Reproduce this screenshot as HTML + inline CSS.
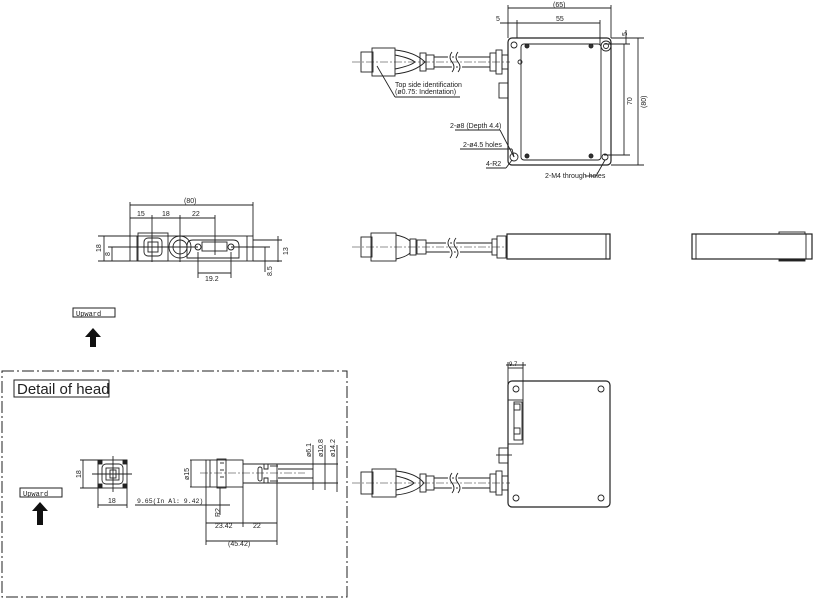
<!DOCTYPE html>
<html><head><meta charset="utf-8"><style>
html,body{margin:0;padding:0;background:#fff}
svg{display:block}
text{font-family:"Liberation Sans",sans-serif;fill:#222}
.m{font-family:"Liberation Mono",monospace}
</style></head><body>
<svg width="820" height="605" viewBox="0 0 820 605" xmlns="http://www.w3.org/2000/svg">
<g fill="none" stroke="#222" stroke-width="0.9">
<!-- ===== TOP VIEW ===== -->
<rect x="508" y="38" width="103" height="127" rx="4" stroke-width="1.2"/>
<rect x="521" y="44" width="80" height="116" rx="3"/>
<circle cx="514" cy="45" r="3"/><circle cx="606" cy="46" r="5"/><circle cx="606" cy="46" r="2.5"/>
<circle cx="514" cy="157" r="4"/><circle cx="605" cy="157" r="3"/>
<circle cx="527" cy="46" r="2" fill="#333"/><circle cx="591" cy="46" r="2" fill="#333"/>
<circle cx="527" cy="156" r="2" fill="#333"/><circle cx="591" cy="156" r="2" fill="#333"/>
<circle cx="520" cy="62" r="2"/>
<rect x="499" y="83" width="9" height="15"/>
<line x1="508" y1="8" x2="611" y2="8"/><line x1="508" y1="5" x2="508" y2="38"/><line x1="611" y1="5" x2="611" y2="38"/>
<line x1="500" y1="23" x2="600" y2="23"/><line x1="517" y1="20" x2="517" y2="38"/><line x1="600" y1="20" x2="600" y2="45"/>
<line x1="604" y1="44" x2="630" y2="44"/><line x1="604" y1="155" x2="630" y2="155"/><line x1="624" y1="44" x2="624" y2="155"/>
<line x1="611" y1="38" x2="644" y2="38"/><line x1="611" y1="165" x2="644" y2="165"/><line x1="638" y1="38" x2="638" y2="165"/>
<line x1="626" y1="30" x2="626" y2="44"/>
<rect x="361" y="52" width="12" height="20"/><rect x="372" y="48" width="23" height="28"/>
<path d="M395 50 Q415 52 425 62 Q415 72 395 74"/><path d="M395 55 Q410 58 415 62 Q410 66 395 69"/>
<rect x="420" y="53" width="6" height="18"/><rect x="426" y="55" width="8" height="14"/>
<line x1="434" y1="57" x2="490" y2="57"/><line x1="434" y1="67" x2="490" y2="67"/>
<path d="M452 52 q-4 5 0 10 q4 5 0 10 M458 52 q-4 5 0 10 q4 5 0 10" stroke="#fff" stroke-width="4"/>
<path d="M452 52 q-4 5 0 10 q4 5 0 10 M458 52 q-4 5 0 10 q4 5 0 10"/>
<rect x="490" y="53" width="6" height="18"/><rect x="496" y="50" width="6" height="24"/><rect x="502" y="55" width="6" height="14"/>
<line x1="352" y1="62" x2="510" y2="62" stroke-dasharray="8 2 2 2" stroke-width="0.6"/>
<line x1="377" y1="66" x2="395" y2="97"/><line x1="395" y1="97" x2="460" y2="97"/>
<line x1="500" y1="130" x2="514" y2="157"/><line x1="455" y1="130" x2="500" y2="130"/>
<line x1="460" y1="149" x2="512" y2="149"/><line x1="512" y1="149" x2="514" y2="157"/>
<line x1="486" y1="168" x2="506" y2="168"/><line x1="506" y1="168" x2="512" y2="160"/>
<line x1="585" y1="176" x2="596" y2="176"/><line x1="596" y1="176" x2="605" y2="160"/>
<!-- ===== FRONT VIEW ===== -->
<rect x="130" y="236" width="123" height="25"/>
<line x1="137" y1="236" x2="137" y2="261"/><line x1="247" y1="236" x2="247" y2="261"/>
<rect x="138" y="233" width="30" height="28"/>
<rect x="144" y="238" width="18" height="18" rx="4"/><rect x="148" y="242" width="10" height="10"/>
<circle cx="180" cy="247" r="11"/><circle cx="180" cy="247" r="7"/>
<path d="M193 240 h40 q6 0 6 6 v12 h-52 v-12 q0 -6 6 -6z"/>
<rect x="202" y="242" width="25" height="9"/><circle cx="198" cy="247" r="3"/><circle cx="231" cy="247" r="3"/>
<line x1="130" y1="205" x2="253" y2="205"/><line x1="130" y1="202" x2="130" y2="236"/><line x1="253" y1="202" x2="253" y2="236"/>
<line x1="130" y1="218" x2="215" y2="218"/><line x1="152" y1="215" x2="152" y2="262"/><line x1="180" y1="215" x2="180" y2="262"/><line x1="215" y1="215" x2="215" y2="255"/>
<line x1="98" y1="236" x2="130" y2="236"/><line x1="98" y1="261" x2="130" y2="261"/><line x1="104" y1="236" x2="104" y2="261"/>
<line x1="108" y1="247" x2="198" y2="247"/><line x1="112" y1="247" x2="112" y2="261"/>
<line x1="253" y1="240" x2="282" y2="240"/><line x1="253" y1="261" x2="282" y2="261"/><line x1="278" y1="236" x2="278" y2="262"/>
<line x1="231" y1="247" x2="270" y2="247"/><line x1="265" y1="247" x2="265" y2="272"/>
<line x1="198" y1="252" x2="198" y2="278"/><line x1="231" y1="252" x2="231" y2="278"/><line x1="198" y1="273" x2="231" y2="273"/>
<!-- ===== SIDE VIEW MID ===== -->
<rect x="361" y="237" width="11" height="20"/><rect x="371" y="233" width="25" height="28"/>
<path d="M396 235 q10 2 14 6 v12 q-4 4 -14 6"/>
<rect x="410" y="239" width="6" height="16"/><rect x="417" y="240" width="9" height="14"/>
<line x1="426" y1="243" x2="492" y2="243"/><line x1="426" y1="252" x2="492" y2="252"/>
<path d="M450 238 q-4 5 0 10 q4 5 0 10 M456 238 q-4 5 0 10 q4 5 0 10" stroke="#fff" stroke-width="4"/>
<path d="M450 238 q-4 5 0 10 q4 5 0 10 M456 238 q-4 5 0 10 q4 5 0 10"/>
<rect x="492" y="239" width="5" height="16"/><rect x="497" y="236" width="9" height="22"/>
<rect x="507" y="234" width="103" height="25" stroke-width="1.2"/><line x1="606" y1="234" x2="606" y2="259"/>
<line x1="352" y1="247" x2="506" y2="247" stroke-dasharray="8 2 2 2" stroke-width="0.6"/>
<rect x="692" y="234" width="120" height="25" stroke-width="1.2"/><line x1="696" y1="234" x2="696" y2="259"/><line x1="806" y1="234" x2="806" y2="259"/>
<rect x="779" y="232" width="26" height="2"/><rect x="779" y="259" width="26" height="2" fill="#222"/>
<rect x="73" y="308" width="42" height="9" stroke-width="1"/>
<rect x="20" y="488" width="42" height="9" stroke-width="1"/>
<!-- ===== DETAIL BOX ===== -->
<rect x="2" y="371" width="345" height="226" stroke-dasharray="12 3 2 3" stroke-width="1"/>
<rect x="14" y="380" width="95" height="17" stroke-width="1"/>
<rect x="98" y="460" width="29" height="28"/><rect x="102" y="464" width="21" height="20" rx="4"/>
<rect x="106" y="468" width="13" height="12"/><rect x="110" y="470" width="6" height="8"/>
<rect x="98" y="460" width="4" height="4" fill="#222"/><rect x="123" y="460" width="4" height="4" fill="#222"/>
<rect x="98" y="484" width="4" height="4" fill="#222"/><rect x="123" y="484" width="4" height="4" fill="#222"/>
<line x1="113" y1="456" x2="113" y2="492"/><line x1="92" y1="474" x2="132" y2="474"/>
<line x1="80" y1="460" x2="98" y2="460"/><line x1="80" y1="488" x2="98" y2="488"/><line x1="83" y1="460" x2="83" y2="488"/>
<line x1="98" y1="488" x2="98" y2="508"/><line x1="127" y1="488" x2="127" y2="508"/><line x1="98" y1="505" x2="127" y2="505"/>
<rect x="206" y="460" width="37" height="27"/><line x1="210" y1="460" x2="210" y2="487"/>
<rect x="217" y="459" width="9" height="29"/><line x1="220" y1="463" x2="224" y2="463"/><line x1="220" y1="470" x2="224" y2="470"/><line x1="220" y1="477" x2="224" y2="477"/>
<line x1="243" y1="464" x2="338" y2="464"/><line x1="243" y1="483" x2="338" y2="483"/>
<rect x="258" y="467" width="4" height="14" rx="2"/><path d="M264 464 v5 h4 v-5 M264 483 v-5 h4 v5"/>
<line x1="270" y1="466" x2="278" y2="466"/><line x1="270" y1="481" x2="278" y2="481"/>
<line x1="277" y1="464" x2="277" y2="545"/><line x1="278" y1="469" x2="313" y2="469"/><line x1="278" y1="478" x2="313" y2="478"/>
<line x1="190" y1="460" x2="206" y2="460"/><line x1="190" y1="487" x2="206" y2="487"/><line x1="191" y1="460" x2="191" y2="487"/>
<line x1="313" y1="445" x2="313" y2="490"/><line x1="325" y1="445" x2="325" y2="490"/><line x1="337" y1="445" x2="337" y2="492"/>
<line x1="200" y1="473" x2="305" y2="473" stroke-dasharray="8 2 2 2" stroke-width="0.6"/>
<line x1="135" y1="505" x2="230" y2="505"/><line x1="220" y1="488" x2="220" y2="515"/>
<line x1="206" y1="487" x2="206" y2="545"/><line x1="243" y1="487" x2="243" y2="527"/>
<line x1="206" y1="523" x2="277" y2="523"/><line x1="206" y1="541" x2="277" y2="541"/>
<!-- ===== BOTTOM VIEW ===== -->
<rect x="508" y="381" width="102" height="126" rx="4" stroke-width="1.2"/>
<rect x="508" y="368" width="15" height="76"/><line x1="508" y1="400" x2="523" y2="400"/>
<rect x="514" y="402" width="8" height="38"/><rect x="514" y="404" width="6" height="6"/><rect x="514" y="428" width="6" height="6"/>
<circle cx="516" cy="389" r="3"/><circle cx="601" cy="389" r="3"/><circle cx="516" cy="498" r="3"/><circle cx="601" cy="498" r="3"/>
<line x1="508" y1="362" x2="508" y2="368"/><line x1="523" y1="362" x2="523" y2="368"/><line x1="506" y1="365" x2="526" y2="365"/>
<rect x="499" y="448" width="9" height="15"/><line x1="496" y1="455" x2="512" y2="455"/>
<rect x="361" y="472" width="12" height="22"/><rect x="372" y="469" width="24" height="28"/>
<path d="M396 471 Q416 473 424 483 Q416 493 396 495"/><path d="M396 476 Q410 479 414 483 Q410 487 396 490"/>
<rect x="420" y="474" width="6" height="18"/><rect x="426" y="476" width="8" height="14"/>
<line x1="434" y1="478" x2="490" y2="478"/><line x1="434" y1="488" x2="490" y2="488"/>
<path d="M452 473 q-4 5 0 10 q4 5 0 10 M458 473 q-4 5 0 10 q4 5 0 10" stroke="#fff" stroke-width="4"/>
<path d="M452 473 q-4 5 0 10 q4 5 0 10 M458 473 q-4 5 0 10 q4 5 0 10"/>
<rect x="490" y="474" width="6" height="18"/><rect x="496" y="471" width="6" height="24"/><rect x="502" y="476" width="6" height="14"/>
<line x1="352" y1="483" x2="510" y2="483" stroke-dasharray="8 2 2 2" stroke-width="0.6"/>
</g>
<path d="M93 328 l-8 9 h5 v10 h6 v-10 h5z" fill="#111"/>
<path d="M40 502 l-8 9 h5 v14 h6 v-14 h5z" fill="#111"/>
<g font-size="7">
<text x="553" y="7">(65)</text><text x="556" y="21">55</text><text x="496" y="21">5</text>
<text x="395" y="87">Top side identification</text><text x="395" y="94">(ø0.75: Indentation)</text>
<text x="450" y="128">2-ø8 (Depth 4.4)</text><text x="463" y="147">2-ø4.5 holes</text>
<text x="486" y="166">4-R2</text><text x="545" y="178">2-M4 through holes</text>
<text x="184" y="203">(80)</text><text x="137" y="216">15</text><text x="162" y="216">18</text><text x="192" y="216">22</text>
<text x="205" y="281">19.2</text>
<text x="108" y="503">18</text><text x="137" y="503" class="m" font-size="6.5">9.65(In Al: 9.42)</text>
<text x="215" y="528">23.42</text><text x="253" y="528">22</text><text x="228" y="546">(45.42)</text>
</g>
<g font-size="7">
<text transform="translate(632,105) rotate(-90)">70</text>
<text transform="translate(646,108) rotate(-90)">(80)</text>
<text transform="translate(627,36) rotate(-90)">5</text>
<text transform="translate(101,252) rotate(-90)">18</text>
<text transform="translate(110,256) rotate(-90)">8</text>
<text transform="translate(288,255) rotate(-90)">13</text>
<text transform="translate(272,276) rotate(-90)">8.5</text>
<text transform="translate(81,478) rotate(-90)">18</text>
<text transform="translate(189,480) rotate(-90)">ø15</text>
<text transform="translate(311,457) rotate(-90)">ø6.1</text>
<text transform="translate(323,457) rotate(-90)">ø10.8</text>
<text transform="translate(335,457) rotate(-90)">ø14.2</text>
<text transform="translate(220,517) rotate(-90)">R2</text>
<text x="509" y="366" font-size="6">9.7</text>
</g>
<text x="76" y="316" font-size="7" class="m">Upward</text>
<text x="23" y="496" font-size="7" class="m">Upward</text>
<text x="17" y="394" font-size="15">Detail of head</text>
</svg>
</body></html>
